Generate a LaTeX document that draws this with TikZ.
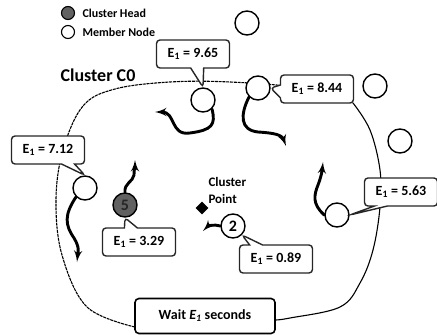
\documentclass[tikz,border=0pt]{standalone}
\usepackage{fontspec}
\setmainfont{Carlito}
\usepackage{tikz}
\usetikzlibrary{arrows,positioning,shapes.geometric,shapes.callouts}
\tikzstyle{member} = [circle,draw,fill=white,line width=1.4pt,minimum size=24pt,inner sep=0pt,font=\bfseries\fontsize{16}{16}\selectfont]
\tikzstyle{head} = [member,fill=black!62,text=black!85]
\tikzstyle{energy} = [rectangle callout,draw=black!85,fill=white,rounded corners=3.5pt,line width=1.4pt,minimum width=73pt,minimum height=28pt,callout pointer width=13pt,font=\bfseries\fontsize{14}{14}\selectfont]
\tikzstyle{move} = [->,line width=2.9pt,line cap=round]

\begin{document}
\begin{tikzpicture}[x=1pt,y=-1pt,>=latex',
                    legend/.style = {font=\bfseries\fontsize{12}{12}\selectfont}]
    \useasboundingbox (0,0) rectangle (437,335);

    % The cluster border goes first, everything else is laid on top of it
    \draw[dash pattern=on 3pt off 0.8pt,line width=1.1pt] plot[smooth,tension=0.6] coordinates {(135,327) (87,307) (62,255) (56,200) (63,150) (83,106) (115,89) (170,82) (230,82) (300,88) (353,103)};
    \draw[line width=1.1pt] plot[smooth,tension=0.6] coordinates {(353,103) (370,130) (380,170) (380,207) (373,250) (360,283) (340,307) (290,318) (275,320)};

    % Legend
    \node [head, minimum size=13pt, line width=1.1pt] (lhead) at (68,13) {};
    \node [member, minimum size=13pt, line width=1.1pt] (lmember) at (68,32) {};
    \node [legend, right=4pt of lhead] {Cluster Head};
    \node [legend, right=4pt of lmember] {Member Node};

    \node [font=\bfseries\fontsize{18}{18}\selectfont] (cname) at (98,75) {Cluster C0};

    % Nodes in and around the cluster
    \node [member] (m965) at (203,100) {};
    \node [member] (m844) at (258,88) {};
    \node [member] (m712) at (85,188) {};
    \node [head] (ch) at (125,205) {5};
    \node [member] (m089) at (233,226) {2};
    \node [member] (m563) at (337,215) {};
    \node [member] (out1) at (247,23) {};
    \node [member] (out2) at (375,86) {};
    \node [member] (out3) at (400,141) {};

    \node [diamond, fill=black, minimum size=13pt, inner sep=0pt] (cpoint) at (202,208) {};
    \node [anchor=west, align=left, font=\bfseries\fontsize{13}{17}\selectfont] (cptext) at (205,190) {Cluster\\Point};

    % Residual energy of every node
    \node [energy, callout absolute pointer={(m965.north)}] (e965) at (193,54) {E\textsubscript{1} = 9.65};
    \node [energy, callout absolute pointer={(m844.east)}] (e844) at (317,89) {E\textsubscript{1} = 8.44};
    \node [energy, callout absolute pointer={(m712.north)}] (e712) at (48,150) {E\textsubscript{1} = 7.12};
    \node [energy, callout absolute pointer={(ch.south)}] (e329) at (139,242) {E\textsubscript{1} = 3.29};
    \node [energy, callout absolute pointer={(m089.south east)}] (e089) at (276,259) {E\textsubscript{1} = 0.89};
    \node [energy, callout absolute pointer={(m563.east)}] (e563) at (401,192) {E\textsubscript{1} = 5.63};

    \node [draw, fill=white, rounded corners=4pt, line width=1.6pt, minimum width=140pt, minimum height=35pt, font=\bfseries\fontsize{14}{14}\selectfont] (wait) at (205,316) {Wait \textit{E\textsubscript{1}} seconds};

    % Moves of the nodes
    \draw [move] (m965.south east) .. controls (216,125) and (212,130) .. (190,133) .. controls (170,136) and (176,112) .. (155,112);
    \draw [move] (m844.south west) .. controls (240,115) and (240,130) .. (258,132) .. controls (275,133) and (282,135) .. (286,146);
    \draw [move] (m712.south west) .. controls (64,215) and (65,225) .. (74,238) .. controls (80,248) and (78,252) .. (77,262);
    \draw [move] (ch.north) .. controls (124,183) and (133,182) .. (134,175) .. controls (134,170) and (135,166) .. (135,160);
    \draw [move] (m089.west) .. controls (214,224) and (208,226) .. (203,231);
    \draw [move] (m563.west) .. controls (312,204) and (314,195) .. (318,185) .. controls (321,177) and (322,172) .. (323,162);
\end{tikzpicture}
\end{document}
